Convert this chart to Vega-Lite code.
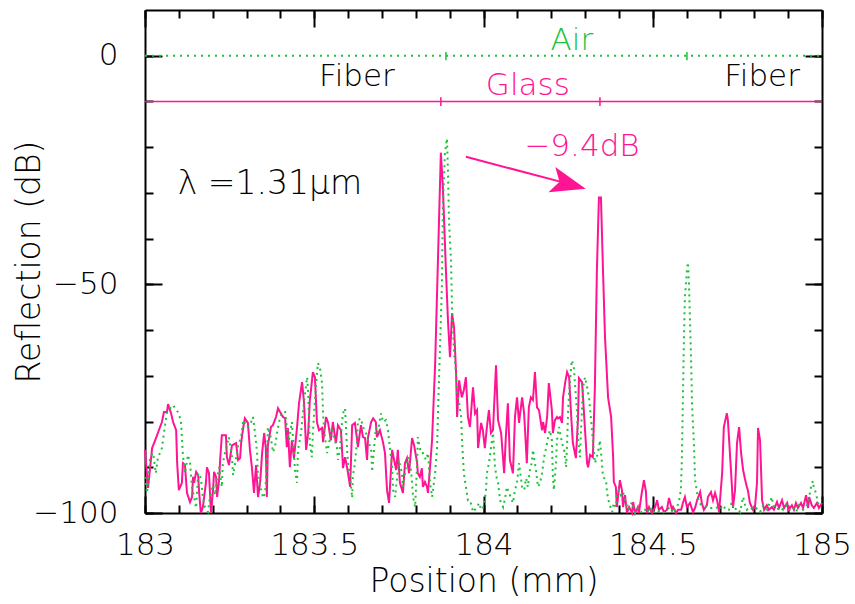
{
  "$schema": "https://vega.github.io/schema/vega-lite/v6.json",
  "width": 677,
  "height": 503,
  "autosize": {"type": "none"},
  "padding": {"left": 145, "top": 10, "right": 33, "bottom": 91},
  "background": "white",
  "config": {
    "view": {"stroke": null},
    "axis": {
      "domainColor": "black", "domainWidth": 2, "tickColor": "black", "tickWidth": 2,
      "labelFont": "DejaVu Sans", "labelFontSize": 31, "labelColor": "black", "labelFontWeight": 200,
      "titleFont": "DejaVu Sans", "titleFontSize": 33, "titleFontWeight": 200, "titleColor": "black",
      "grid": false, "labelOverlap": false, "labelFlush": false, "labelBound": false
    },
    "text": {"font": "DejaVu Sans", "fontSize": 31, "fontWeight": 200}
  },
  "datasets": {
    "glass": [
      {"pos":183.000,"refl":-86.2},{"pos":183.009,"refl":-94.5},{"pos":183.021,"refl":-85.8},{"pos":183.030,"refl":-84.1},{"pos":183.038,"refl":-82.5},{"pos":183.050,"refl":-80.1},{"pos":183.056,"refl":-77.9},{"pos":183.065,"refl":-77.9},{"pos":183.068,"refl":-76.2},{"pos":183.077,"refl":-78.2},{"pos":183.083,"refl":-80.1},{"pos":183.092,"refl":-81.9},{"pos":183.095,"refl":-89.1},{"pos":183.100,"refl":-95.0},{"pos":183.109,"refl":-93.4},{"pos":183.112,"refl":-89.1},{"pos":183.118,"refl":-89.5},{"pos":183.124,"refl":-95.6},{"pos":183.133,"refl":-97.6},{"pos":183.139,"refl":-96.5},{"pos":183.142,"refl":-92.1},{"pos":183.145,"refl":-93.4},{"pos":183.151,"refl":-91.0},{"pos":183.157,"refl":-91.7},{"pos":183.160,"refl":-95.6},{"pos":183.165,"refl":-100.0},{"pos":183.171,"refl":-98.7},{"pos":183.180,"refl":-93.4},{"pos":183.183,"refl":-90.0},{"pos":183.189,"refl":-91.3},{"pos":183.195,"refl":-100.0},{"pos":183.201,"refl":-95.0},{"pos":183.204,"refl":-91.0},{"pos":183.210,"refl":-92.1},{"pos":183.213,"refl":-96.5},{"pos":183.219,"refl":-92.8},{"pos":183.222,"refl":-88.4},{"pos":183.227,"refl":-83.0},{"pos":183.239,"refl":-83.0},{"pos":183.242,"refl":-87.8},{"pos":183.248,"refl":-89.5},{"pos":183.257,"refl":-85.2},{"pos":183.269,"refl":-84.7},{"pos":183.275,"refl":-88.4},{"pos":183.281,"refl":-88.0},{"pos":183.284,"refl":-84.7},{"pos":183.290,"refl":-81.4},{"pos":183.295,"refl":-79.3},{"pos":183.304,"refl":-80.3},{"pos":183.310,"refl":-86.2},{"pos":183.316,"refl":-90.2},{"pos":183.322,"refl":-95.6},{"pos":183.328,"refl":-89.5},{"pos":183.334,"refl":-96.5},{"pos":183.340,"refl":-93.4},{"pos":183.346,"refl":-86.9},{"pos":183.352,"refl":-82.5},{"pos":183.357,"refl":-85.8},{"pos":183.360,"refl":-96.5},{"pos":183.363,"refl":-85.2},{"pos":183.372,"refl":-81.2},{"pos":183.378,"refl":-80.8},{"pos":183.387,"refl":-79.0},{"pos":183.393,"refl":-77.1},{"pos":183.399,"refl":-77.9},{"pos":183.408,"refl":-79.0},{"pos":183.414,"refl":-79.3},{"pos":183.419,"refl":-85.6},{"pos":183.422,"refl":-81.4},{"pos":183.428,"refl":-90.0},{"pos":183.434,"refl":-84.1},{"pos":183.440,"refl":-88.0},{"pos":183.449,"refl":-81.4},{"pos":183.455,"refl":-76.0},{"pos":183.464,"refl":-71.4},{"pos":183.470,"refl":-76.0},{"pos":183.476,"refl":-86.2},{"pos":183.482,"refl":-82.5},{"pos":183.487,"refl":-75.3},{"pos":183.496,"refl":-69.2},{"pos":183.502,"refl":-70.3},{"pos":183.508,"refl":-80.1},{"pos":183.514,"refl":-81.9},{"pos":183.523,"refl":-81.4},{"pos":183.526,"refl":-84.5},{"pos":183.535,"refl":-79.0},{"pos":183.541,"refl":-80.3},{"pos":183.549,"refl":-84.1},{"pos":183.555,"refl":-80.1},{"pos":183.564,"refl":-84.7},{"pos":183.570,"refl":-80.8},{"pos":183.579,"refl":-81.9},{"pos":183.585,"refl":-90.2},{"pos":183.591,"refl":-87.8},{"pos":183.597,"refl":-90.0},{"pos":183.606,"refl":-94.3},{"pos":183.612,"refl":-80.8},{"pos":183.620,"refl":-80.3},{"pos":183.626,"refl":-83.6},{"pos":183.629,"refl":-85.6},{"pos":183.638,"refl":-80.8},{"pos":183.644,"refl":-83.4},{"pos":183.650,"refl":-83.6},{"pos":183.656,"refl":-88.4},{"pos":183.659,"refl":-83.4},{"pos":183.668,"refl":-80.1},{"pos":183.674,"refl":-79.3},{"pos":183.682,"refl":-80.1},{"pos":183.685,"refl":-83.4},{"pos":183.694,"refl":-81.9},{"pos":183.703,"refl":-84.5},{"pos":183.709,"refl":-86.9},{"pos":183.715,"refl":-95.0},{"pos":183.721,"refl":-97.8},{"pos":183.730,"refl":-86.2},{"pos":183.736,"refl":-88.4},{"pos":183.742,"refl":-90.6},{"pos":183.747,"refl":-86.2},{"pos":183.753,"refl":-93.4},{"pos":183.762,"refl":-95.6},{"pos":183.768,"refl":-89.1},{"pos":183.774,"refl":-88.0},{"pos":183.780,"refl":-91.3},{"pos":183.789,"refl":-83.6},{"pos":183.795,"refl":-85.2},{"pos":183.804,"refl":-89.1},{"pos":183.806,"refl":-91.3},{"pos":183.812,"refl":-92.1},{"pos":183.818,"refl":-90.2},{"pos":183.821,"refl":-94.3},{"pos":183.827,"refl":-93.2},{"pos":183.833,"refl":-94.3},{"pos":183.836,"refl":-95.6},{"pos":183.842,"refl":-90.0},{"pos":183.848,"refl":-84.1},{"pos":183.857,"refl":-67.7},{"pos":183.866,"refl":-43.2},{"pos":183.874,"refl":-21.2},{"pos":183.880,"refl":-28.8},{"pos":183.889,"refl":-46.9},{"pos":183.895,"refl":-57.9},{"pos":183.901,"refl":-65.9},{"pos":183.907,"refl":-56.3},{"pos":183.913,"refl":-59.4},{"pos":183.919,"refl":-69.4},{"pos":183.922,"refl":-79.0},{"pos":183.928,"refl":-71.0},{"pos":183.936,"refl":-74.7},{"pos":183.942,"refl":-73.1},{"pos":183.948,"refl":-70.3},{"pos":183.954,"refl":-79.0},{"pos":183.960,"refl":-81.2},{"pos":183.969,"refl":-72.5},{"pos":183.975,"refl":-78.2},{"pos":183.981,"refl":-77.5},{"pos":183.984,"refl":-85.8},{"pos":183.993,"refl":-80.3},{"pos":183.998,"refl":-81.9},{"pos":184.004,"refl":-85.8},{"pos":184.010,"refl":-81.2},{"pos":184.016,"refl":-77.5},{"pos":184.022,"refl":-82.5},{"pos":184.028,"refl":-81.9},{"pos":184.037,"refl":-67.7},{"pos":184.043,"refl":-79.7},{"pos":184.052,"refl":-82.5},{"pos":184.061,"refl":-91.3},{"pos":184.066,"refl":-83.4},{"pos":184.072,"refl":-76.0},{"pos":184.078,"refl":-88.4},{"pos":184.087,"refl":-91.3},{"pos":184.093,"refl":-79.0},{"pos":184.099,"refl":-74.7},{"pos":184.105,"refl":-80.3},{"pos":184.114,"refl":-74.7},{"pos":184.120,"refl":-78.2},{"pos":184.128,"refl":-89.1},{"pos":184.134,"refl":-76.9},{"pos":184.140,"refl":-74.7},{"pos":184.146,"refl":-75.3},{"pos":184.152,"refl":-69.2},{"pos":184.158,"refl":-76.9},{"pos":184.164,"refl":-77.5},{"pos":184.173,"refl":-81.9},{"pos":184.176,"refl":-80.1},{"pos":184.182,"refl":-82.5},{"pos":184.188,"refl":-79.0},{"pos":184.193,"refl":-71.6},{"pos":184.202,"refl":-77.5},{"pos":184.205,"refl":-82.5},{"pos":184.211,"refl":-79.7},{"pos":184.217,"refl":-79.0},{"pos":184.220,"refl":-79.3},{"pos":184.226,"refl":-79.0},{"pos":184.232,"refl":-80.3},{"pos":184.235,"refl":-74.7},{"pos":184.241,"refl":-71.6},{"pos":184.247,"refl":-69.2},{"pos":184.253,"refl":-70.3},{"pos":184.258,"refl":-77.5},{"pos":184.264,"refl":-84.7},{"pos":184.273,"refl":-88.0},{"pos":184.279,"refl":-79.7},{"pos":184.282,"refl":-70.5},{"pos":184.291,"refl":-71.4},{"pos":184.294,"refl":-74.7},{"pos":184.300,"refl":-81.9},{"pos":184.306,"refl":-89.1},{"pos":184.309,"refl":-90.0},{"pos":184.315,"refl":-87.3},{"pos":184.323,"refl":-87.8},{"pos":184.329,"refl":-72.5},{"pos":184.335,"refl":-46.9},{"pos":184.341,"refl":-31.0},{"pos":184.347,"refl":-31.0},{"pos":184.353,"refl":-46.9},{"pos":184.359,"refl":-61.6},{"pos":184.368,"refl":-74.7},{"pos":184.377,"refl":-79.0},{"pos":184.383,"refl":-87.8},{"pos":184.385,"refl":-93.2},{"pos":184.391,"refl":-94.3},{"pos":184.394,"refl":-98.7},{"pos":184.403,"refl":-92.8},{"pos":184.409,"refl":-95.0},{"pos":184.412,"refl":-98.7},{"pos":184.418,"refl":-96.1},{"pos":184.424,"refl":-100.0},{"pos":184.430,"refl":-98.7},{"pos":184.439,"refl":-100.0},{"pos":184.442,"refl":-97.6},{"pos":184.448,"refl":-100.0},{"pos":184.456,"refl":-98.7},{"pos":184.459,"refl":-100.0},{"pos":184.468,"refl":-95.4},{"pos":184.474,"refl":-92.8},{"pos":184.480,"refl":-95.4},{"pos":184.483,"refl":-100.0},{"pos":184.489,"refl":-98.7},{"pos":184.498,"refl":-100.0},{"pos":184.507,"refl":-98.7},{"pos":184.513,"refl":-97.2},{"pos":184.518,"refl":-99.3},{"pos":184.527,"refl":-98.7},{"pos":184.533,"refl":-99.8},{"pos":184.542,"refl":-99.3},{"pos":184.548,"refl":-96.7},{"pos":184.557,"refl":-99.3},{"pos":184.560,"refl":-98.7},{"pos":184.569,"refl":-100.0},{"pos":184.575,"refl":-99.3},{"pos":184.584,"refl":-99.3},{"pos":184.589,"refl":-97.8},{"pos":184.595,"refl":-96.5},{"pos":184.601,"refl":-98.7},{"pos":184.610,"refl":-97.8},{"pos":184.619,"refl":-99.8},{"pos":184.625,"refl":-98.9},{"pos":184.631,"refl":-97.2},{"pos":184.640,"refl":-95.4},{"pos":184.645,"refl":-97.8},{"pos":184.651,"refl":-99.3},{"pos":184.660,"refl":-98.3},{"pos":184.663,"refl":-96.5},{"pos":184.672,"refl":-95.4},{"pos":184.678,"refl":-97.2},{"pos":184.684,"refl":-95.6},{"pos":184.690,"refl":-97.2},{"pos":184.696,"refl":-99.8},{"pos":184.705,"refl":-91.3},{"pos":184.710,"refl":-81.2},{"pos":184.719,"refl":-78.2},{"pos":184.722,"refl":-79.7},{"pos":184.728,"refl":-86.9},{"pos":184.734,"refl":-94.3},{"pos":184.737,"refl":-98.9},{"pos":184.743,"refl":-95.0},{"pos":184.749,"refl":-84.7},{"pos":184.755,"refl":-81.2},{"pos":184.761,"refl":-86.9},{"pos":184.767,"refl":-90.6},{"pos":184.772,"refl":-92.4},{"pos":184.778,"refl":-94.3},{"pos":184.781,"refl":-95.0},{"pos":184.787,"refl":-97.8},{"pos":184.796,"refl":-99.3},{"pos":184.802,"refl":-98.7},{"pos":184.808,"refl":-93.4},{"pos":184.811,"refl":-81.4},{"pos":184.817,"refl":-84.1},{"pos":184.823,"refl":-97.2},{"pos":184.829,"refl":-99.3},{"pos":184.837,"refl":-98.3},{"pos":184.843,"refl":-99.3},{"pos":184.852,"refl":-98.7},{"pos":184.858,"refl":-99.3},{"pos":184.867,"refl":-97.6},{"pos":184.873,"refl":-98.9},{"pos":184.882,"refl":-97.2},{"pos":184.888,"refl":-98.9},{"pos":184.897,"refl":-97.8},{"pos":184.902,"refl":-99.3},{"pos":184.911,"refl":-98.3},{"pos":184.917,"refl":-99.3},{"pos":184.923,"refl":-97.8},{"pos":184.929,"refl":-98.9},{"pos":184.938,"refl":-97.8},{"pos":184.944,"refl":-98.9},{"pos":184.953,"refl":-96.1},{"pos":184.959,"refl":-98.9},{"pos":184.962,"refl":-96.5},{"pos":184.970,"refl":-98.3},{"pos":184.976,"refl":-98.9},{"pos":184.985,"refl":-97.8},{"pos":184.991,"refl":-98.9},{"pos":185.000,"refl":-97.8}
    ],
    "air": [
      {"pos":183.000,"refl":-92.1},{"pos":183.006,"refl":-95.6},{"pos":183.015,"refl":-87.8},{"pos":183.024,"refl":-86.9},{"pos":183.032,"refl":-91.3},{"pos":183.038,"refl":-88.0},{"pos":183.050,"refl":-85.8},{"pos":183.056,"refl":-82.5},{"pos":183.065,"refl":-77.9},{"pos":183.074,"refl":-77.1},{"pos":183.083,"refl":-76.4},{"pos":183.092,"refl":-77.5},{"pos":183.097,"refl":-77.9},{"pos":183.106,"refl":-79.7},{"pos":183.109,"refl":-83.4},{"pos":183.112,"refl":-87.3},{"pos":183.118,"refl":-91.3},{"pos":183.127,"refl":-87.3},{"pos":183.133,"refl":-89.1},{"pos":183.139,"refl":-94.5},{"pos":183.145,"refl":-96.5},{"pos":183.151,"refl":-98.9},{"pos":183.157,"refl":-91.3},{"pos":183.165,"refl":-92.4},{"pos":183.171,"refl":-96.5},{"pos":183.177,"refl":-98.7},{"pos":183.186,"refl":-99.8},{"pos":183.192,"refl":-96.5},{"pos":183.201,"refl":-93.9},{"pos":183.207,"refl":-96.1},{"pos":183.213,"refl":-92.1},{"pos":183.219,"refl":-90.0},{"pos":183.227,"refl":-94.3},{"pos":183.230,"refl":-89.1},{"pos":183.236,"refl":-86.9},{"pos":183.242,"refl":-85.2},{"pos":183.248,"refl":-83.4},{"pos":183.257,"refl":-87.8},{"pos":183.260,"refl":-91.7},{"pos":183.269,"refl":-88.0},{"pos":183.275,"refl":-85.2},{"pos":183.284,"refl":-83.4},{"pos":183.290,"refl":-79.7},{"pos":183.295,"refl":-80.3},{"pos":183.301,"refl":-81.2},{"pos":183.310,"refl":-80.8},{"pos":183.319,"refl":-79.0},{"pos":183.325,"refl":-82.5},{"pos":183.331,"refl":-86.7},{"pos":183.334,"refl":-92.1},{"pos":183.343,"refl":-95.0},{"pos":183.349,"refl":-96.7},{"pos":183.355,"refl":-95.6},{"pos":183.360,"refl":-89.1},{"pos":183.363,"refl":-81.2},{"pos":183.372,"refl":-83.6},{"pos":183.378,"refl":-86.7},{"pos":183.384,"refl":-85.6},{"pos":183.390,"refl":-82.5},{"pos":183.399,"refl":-79.0},{"pos":183.408,"refl":-77.9},{"pos":183.414,"refl":-77.9},{"pos":183.419,"refl":-81.2},{"pos":183.425,"refl":-84.1},{"pos":183.434,"refl":-80.1},{"pos":183.443,"refl":-90.6},{"pos":183.449,"refl":-93.4},{"pos":183.452,"refl":-86.2},{"pos":183.461,"refl":-82.5},{"pos":183.467,"refl":-77.5},{"pos":183.473,"refl":-73.8},{"pos":183.479,"refl":-70.3},{"pos":183.482,"refl":-73.8},{"pos":183.487,"refl":-84.7},{"pos":183.493,"refl":-87.8},{"pos":183.496,"refl":-82.5},{"pos":183.502,"refl":-75.3},{"pos":183.508,"refl":-69.4},{"pos":183.511,"refl":-67.2},{"pos":183.517,"refl":-68.3},{"pos":183.523,"refl":-71.6},{"pos":183.526,"refl":-78.2},{"pos":183.529,"refl":-81.9},{"pos":183.538,"refl":-86.9},{"pos":183.544,"refl":-84.7},{"pos":183.552,"refl":-81.2},{"pos":183.558,"refl":-83.4},{"pos":183.567,"refl":-85.6},{"pos":183.570,"refl":-88.4},{"pos":183.576,"refl":-85.6},{"pos":183.582,"refl":-80.3},{"pos":183.585,"refl":-78.2},{"pos":183.591,"refl":-77.1},{"pos":183.597,"refl":-86.2},{"pos":183.600,"refl":-89.1},{"pos":183.606,"refl":-92.1},{"pos":183.612,"refl":-96.7},{"pos":183.614,"refl":-92.1},{"pos":183.620,"refl":-89.1},{"pos":183.626,"refl":-84.7},{"pos":183.629,"refl":-79.7},{"pos":183.638,"refl":-79.3},{"pos":183.644,"refl":-81.2},{"pos":183.653,"refl":-82.5},{"pos":183.659,"refl":-84.1},{"pos":183.668,"refl":-86.2},{"pos":183.671,"refl":-91.0},{"pos":183.677,"refl":-85.6},{"pos":183.682,"refl":-81.4},{"pos":183.688,"refl":-82.5},{"pos":183.697,"refl":-78.2},{"pos":183.703,"refl":-80.1},{"pos":183.712,"refl":-79.7},{"pos":183.718,"refl":-81.9},{"pos":183.724,"refl":-86.2},{"pos":183.730,"refl":-90.0},{"pos":183.733,"refl":-95.0},{"pos":183.739,"refl":-96.5},{"pos":183.744,"refl":-92.8},{"pos":183.750,"refl":-88.4},{"pos":183.759,"refl":-91.3},{"pos":183.762,"refl":-94.3},{"pos":183.771,"refl":-90.0},{"pos":183.777,"refl":-87.8},{"pos":183.786,"refl":-90.6},{"pos":183.792,"refl":-96.5},{"pos":183.798,"refl":-98.7},{"pos":183.804,"refl":-89.1},{"pos":183.806,"refl":-83.4},{"pos":183.815,"refl":-86.9},{"pos":183.821,"refl":-86.9},{"pos":183.830,"refl":-88.4},{"pos":183.836,"refl":-86.9},{"pos":183.842,"refl":-93.4},{"pos":183.848,"refl":-96.5},{"pos":183.851,"refl":-95.0},{"pos":183.857,"refl":-91.3},{"pos":183.863,"refl":-85.6},{"pos":183.866,"refl":-76.9},{"pos":183.871,"refl":-65.1},{"pos":183.877,"refl":-50.7},{"pos":183.880,"refl":-32.3},{"pos":183.886,"refl":-21.4},{"pos":183.892,"refl":-18.1},{"pos":183.895,"refl":-25.1},{"pos":183.898,"refl":-36.0},{"pos":183.904,"refl":-44.8},{"pos":183.907,"refl":-55.0},{"pos":183.913,"refl":-65.1},{"pos":183.919,"refl":-69.4},{"pos":183.922,"refl":-73.8},{"pos":183.928,"refl":-76.0},{"pos":183.934,"refl":-79.0},{"pos":183.936,"refl":-83.4},{"pos":183.942,"refl":-91.3},{"pos":183.948,"refl":-94.3},{"pos":183.954,"refl":-97.2},{"pos":183.960,"refl":-97.2},{"pos":183.966,"refl":-98.7},{"pos":183.969,"refl":-99.8},{"pos":183.981,"refl":-98.7},{"pos":183.987,"refl":-97.8},{"pos":183.993,"refl":-99.3},{"pos":183.999,"refl":-98.7},{"pos":184.007,"refl":-95.6},{"pos":184.010,"refl":-91.3},{"pos":184.016,"refl":-89.1},{"pos":184.025,"refl":-84.1},{"pos":184.028,"refl":-82.5},{"pos":184.034,"refl":-90.0},{"pos":184.040,"refl":-92.8},{"pos":184.043,"refl":-93.4},{"pos":184.049,"refl":-97.2},{"pos":184.058,"refl":-98.7},{"pos":184.064,"refl":-96.7},{"pos":184.069,"refl":-94.3},{"pos":184.078,"refl":-96.1},{"pos":184.087,"refl":-97.8},{"pos":184.093,"refl":-95.0},{"pos":184.099,"refl":-93.4},{"pos":184.105,"refl":-89.1},{"pos":184.114,"refl":-94.3},{"pos":184.120,"refl":-95.0},{"pos":184.126,"refl":-92.4},{"pos":184.131,"refl":-94.3},{"pos":184.137,"refl":-90.6},{"pos":184.143,"refl":-88.9},{"pos":184.146,"refl":-86.2},{"pos":184.155,"refl":-90.6},{"pos":184.161,"refl":-94.3},{"pos":184.167,"refl":-93.4},{"pos":184.173,"refl":-91.3},{"pos":184.179,"refl":-87.8},{"pos":184.185,"refl":-85.8},{"pos":184.191,"refl":-83.4},{"pos":184.196,"refl":-81.9},{"pos":184.202,"refl":-84.1},{"pos":184.205,"refl":-92.1},{"pos":184.208,"refl":-95.0},{"pos":184.214,"refl":-89.1},{"pos":184.217,"refl":-84.1},{"pos":184.223,"refl":-81.2},{"pos":184.232,"refl":-84.7},{"pos":184.238,"refl":-86.2},{"pos":184.244,"refl":-90.0},{"pos":184.247,"refl":-84.7},{"pos":184.250,"refl":-77.5},{"pos":184.253,"refl":-73.6},{"pos":184.258,"refl":-68.8},{"pos":184.261,"refl":-66.6},{"pos":184.267,"refl":-68.1},{"pos":184.270,"refl":-71.6},{"pos":184.276,"refl":-77.5},{"pos":184.279,"refl":-83.4},{"pos":184.285,"refl":-87.8},{"pos":184.288,"refl":-81.9},{"pos":184.294,"refl":-72.5},{"pos":184.300,"refl":-70.3},{"pos":184.306,"refl":-72.5},{"pos":184.312,"refl":-74.9},{"pos":184.318,"refl":-79.7},{"pos":184.323,"refl":-84.1},{"pos":184.329,"refl":-89.1},{"pos":184.335,"refl":-87.8},{"pos":184.341,"refl":-85.6},{"pos":184.344,"refl":-84.1},{"pos":184.350,"refl":-89.1},{"pos":184.353,"refl":-92.1},{"pos":184.362,"refl":-92.8},{"pos":184.365,"refl":-95.6},{"pos":184.371,"refl":-97.8},{"pos":184.380,"refl":-99.8},{"pos":184.385,"refl":-97.8},{"pos":184.391,"refl":-98.7},{"pos":184.394,"refl":-95.6},{"pos":184.400,"refl":-95.0},{"pos":184.406,"refl":-96.1},{"pos":184.412,"refl":-95.4},{"pos":184.421,"refl":-97.8},{"pos":184.427,"refl":-99.3},{"pos":184.439,"refl":-97.6},{"pos":184.448,"refl":-100.0},{"pos":184.456,"refl":-98.9},{"pos":184.468,"refl":-100.0},{"pos":184.477,"refl":-99.3},{"pos":184.483,"refl":-100.0},{"pos":184.492,"refl":-98.7},{"pos":184.501,"refl":-100.0},{"pos":184.512,"refl":-99.3},{"pos":184.521,"refl":-99.8},{"pos":184.530,"refl":-100.0},{"pos":184.542,"refl":-99.3},{"pos":184.551,"refl":-98.7},{"pos":184.560,"refl":-100.0},{"pos":184.572,"refl":-98.7},{"pos":184.578,"refl":-97.2},{"pos":184.583,"refl":-95.0},{"pos":184.586,"refl":-88.4},{"pos":184.589,"refl":-75.3},{"pos":184.592,"refl":-62.2},{"pos":184.595,"refl":-52.8},{"pos":184.601,"refl":-46.9},{"pos":184.604,"refl":-45.2},{"pos":184.607,"refl":-49.8},{"pos":184.610,"refl":-57.9},{"pos":184.613,"refl":-65.9},{"pos":184.616,"refl":-76.0},{"pos":184.622,"refl":-85.6},{"pos":184.625,"refl":-92.8},{"pos":184.631,"refl":-95.6},{"pos":184.637,"refl":-97.8},{"pos":184.645,"refl":-98.3},{"pos":184.654,"refl":-98.3},{"pos":184.663,"refl":-98.9},{"pos":184.675,"refl":-98.9},{"pos":184.687,"refl":-98.7},{"pos":184.699,"refl":-99.3},{"pos":184.708,"refl":-98.3},{"pos":184.716,"refl":-99.3},{"pos":184.725,"refl":-99.3},{"pos":184.734,"refl":-97.6},{"pos":184.740,"refl":-99.3},{"pos":184.749,"refl":-98.9},{"pos":184.758,"refl":-99.8},{"pos":184.767,"refl":-96.5},{"pos":184.773,"refl":-98.3},{"pos":184.778,"refl":-99.3},{"pos":184.787,"refl":-98.7},{"pos":184.796,"refl":-99.3},{"pos":184.805,"refl":-98.9},{"pos":184.817,"refl":-99.8},{"pos":184.826,"refl":-98.3},{"pos":184.838,"refl":-99.3},{"pos":184.852,"refl":-96.5},{"pos":184.855,"refl":-98.3},{"pos":184.867,"refl":-99.3},{"pos":184.876,"refl":-98.7},{"pos":184.885,"refl":-99.3},{"pos":184.896,"refl":-98.3},{"pos":184.905,"refl":-99.3},{"pos":184.914,"refl":-98.7},{"pos":184.923,"refl":-99.8},{"pos":184.932,"refl":-98.3},{"pos":184.944,"refl":-99.3},{"pos":184.953,"refl":-98.7},{"pos":184.959,"refl":-97.8},{"pos":184.967,"refl":-94.5},{"pos":184.973,"refl":-93.0},{"pos":184.976,"refl":-94.5},{"pos":184.982,"refl":-95.6},{"pos":184.988,"refl":-97.8},{"pos":184.997,"refl":-98.9}
    ],
    "glassmarks": [{"pos": 183.874}, {"pos": 184.344}],
    "airmarks": [{"pos": 183.889}, {"pos": 184.601}],
    "levels": [{"pos": 183, "refl": -10, "pos2": 185}],
    "airlevel": [{"pos": 183, "refl": 0, "pos2": 185}],
    "blacklabels": [{"pos": 183.626, "refl": -4.7, "label": "Fiber"}, {"pos": 184.823, "refl": -4.7, "label": "Fiber"}],
    "lambda": [{"pos": 183.097, "refl": -28.0, "label": "λ  =1.31μm"}],
    "greenlabels": [{"pos": 184.261, "refl": 3.3, "label": "Air"}],
    "pinklabels": [{"pos": 184.131, "refl": -6.6, "label": "Glass"}, {"pos": 184.291, "refl": -19.9, "label": "−9.4dB"}],
    "arrowline": [{"pos": 183.948, "refl": -22.1}, {"pos": 184.235, "refl": -27.7}],
    "arrowhead": [{"pos": 184.252, "refl": -28.1}]
  },
  "layer": [
    {
      "data": {"name": "glass"},
      "mark": {"type": "line", "color": "#ff1493", "strokeWidth": 2},
      "encoding": {
        "x": {"field": "pos", "type": "quantitative", "scale": {"domain": [183, 185], "nice": false, "zero": false},
          "axis": {"orient": "bottom", "title": "Position (mm)", "values": [183, 183.5, 184, 184.5, 185], "format": "~g", "tickSize": -17, "labelPadding": 34, "titlePadding": 5}},
        "y": {"field": "refl", "type": "quantitative", "scale": {"domain": [-100, 10], "nice": false, "zero": false},
          "axis": {"orient": "left", "title": "Reflection (dB)", "values": [-100, -50, 0], "format": "d", "tickSize": -17, "labelPadding": 44, "titlePadding": -14}}
      }
    },
    {
      "data": {"name": "air"},
      "mark": {"type": "line", "color": "#1dc23a", "strokeWidth": 2, "strokeDash": [2, 4]},
      "encoding": {
        "x": {"field": "pos", "type": "quantitative", "axis": {"orient": "top", "title": null, "labels": false, "values": [183, 183.5, 184, 184.5, 185], "tickSize": -17}},
        "y": {"field": "refl", "type": "quantitative", "axis": {"orient": "right", "title": null, "labels": false, "values": [-100, -50, 0], "tickSize": -17}}
      }
    },
    {
      "data": {"name": "glassmarks"},
      "mark": {"type": "rule", "color": "#ff1493", "strokeWidth": 1.5},
      "encoding": {
        "x": {"field": "pos", "type": "quantitative", "axis": {"orient": "bottom", "title": null, "labels": false, "domain": false, "values": [183, 183.1, 183.2, 183.3, 183.4, 183.5, 183.6, 183.7, 183.8, 183.9, 184, 184.1, 184.2, 184.3, 184.4, 184.5, 184.6, 184.7, 184.8, 184.9, 185], "tickSize": -8}},
        "y": {"datum": -9.1, "type": "quantitative", "axis": {"orient": "left", "title": null, "labels": false, "domain": false, "values": [-100, -90, -80, -70, -60, -50, -40, -30, -20, -10, 0], "tickSize": -8}},
        "y2": {"datum": -11.0}
      }
    },
    {
      "data": {"name": "airmarks"},
      "mark": {"type": "rule", "color": "#1dc23a", "strokeWidth": 1.5},
      "encoding": {
        "x": {"field": "pos", "type": "quantitative", "axis": {"orient": "top", "title": null, "labels": false, "domain": false, "values": [183, 183.1, 183.2, 183.3, 183.4, 183.5, 183.6, 183.7, 183.8, 183.9, 184, 184.1, 184.2, 184.3, 184.4, 184.5, 184.6, 184.7, 184.8, 184.9, 185], "tickSize": -8}},
        "y": {"datum": 0.8, "type": "quantitative", "axis": {"orient": "right", "title": null, "labels": false, "domain": false, "values": [-100, -90, -80, -70, -60, -50, -40, -30, -20, -10, 0], "tickSize": -8}},
        "y2": {"datum": -1.0}
      }
    },
    {
      "data": {"name": "levels"},
      "mark": {"type": "rule", "color": "#ff1493", "strokeWidth": 1.5},
      "encoding": {
        "x": {"field": "pos", "type": "quantitative", "axis": null},
        "x2": {"field": "pos2"},
        "y": {"field": "refl", "type": "quantitative", "axis": null}
      }
    },
    {
      "data": {"name": "airlevel"},
      "mark": {"type": "rule", "color": "#1dc23a", "strokeWidth": 2, "strokeDash": [2, 5]},
      "encoding": {
        "x": {"field": "pos", "type": "quantitative", "axis": null},
        "x2": {"field": "pos2"},
        "y": {"field": "refl", "type": "quantitative", "axis": null}
      }
    },
    {
      "data": {"name": "blacklabels"},
      "mark": {"type": "text", "color": "black", "align": "center", "baseline": "middle"},
      "encoding": {
        "x": {"field": "pos", "type": "quantitative", "axis": null},
        "y": {"field": "refl", "type": "quantitative", "axis": null},
        "text": {"field": "label"}
      }
    },
    {
      "data": {"name": "lambda"},
      "mark": {"type": "text", "color": "black", "align": "left", "baseline": "middle", "fontSize": 33},
      "encoding": {
        "x": {"field": "pos", "type": "quantitative", "axis": null},
        "y": {"field": "refl", "type": "quantitative", "axis": null},
        "text": {"field": "label"}
      }
    },
    {
      "data": {"name": "greenlabels"},
      "mark": {"type": "text", "color": "#1dc23a", "align": "center", "baseline": "middle"},
      "encoding": {
        "x": {"field": "pos", "type": "quantitative", "axis": null},
        "y": {"field": "refl", "type": "quantitative", "axis": null},
        "text": {"field": "label"}
      }
    },
    {
      "data": {"name": "pinklabels"},
      "mark": {"type": "text", "color": "#ff1493", "align": "center", "baseline": "middle"},
      "encoding": {
        "x": {"field": "pos", "type": "quantitative", "axis": null},
        "y": {"field": "refl", "type": "quantitative", "axis": null},
        "text": {"field": "label"}
      }
    },
    {
      "data": {"name": "arrowline"},
      "mark": {"type": "line", "color": "#ff1493", "strokeWidth": 2},
      "encoding": {
        "x": {"field": "pos", "type": "quantitative", "axis": null},
        "y": {"field": "refl", "type": "quantitative", "axis": null}
      }
    },
    {
      "data": {"name": "arrowhead"},
      "mark": {"type": "point", "shape": "M 1 0 L -1 -0.75 L -0.55 0 L -1 0.75 Z", "filled": true, "color": "#ff1493", "opacity": 1, "size": 1225, "angle": 15, "strokeWidth": 0},
      "encoding": {
        "x": {"field": "pos", "type": "quantitative", "axis": null},
        "y": {"field": "refl", "type": "quantitative", "axis": null}
      }
    }
  ],
  "resolve": {"axis": {"x": "independent", "y": "independent"}}
}
